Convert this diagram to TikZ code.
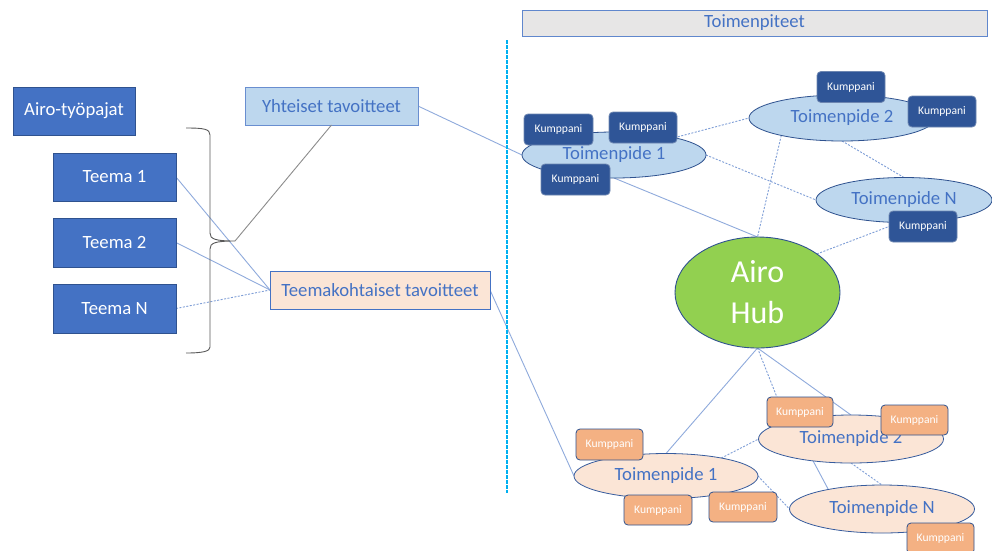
\documentclass[tikz,border=0pt]{standalone}
\usepackage{fontspec}
\setmainfont{Carlito}
\usetikzlibrary{shapes.geometric,backgrounds}
\definecolor{dblue}{HTML}{4472C4}
\definecolor{dborder}{HTML}{2F528F}
\definecolor{lblue}{HTML}{BDD7EE}
\definecolor{peach}{HTML}{FBE5D6}
\definecolor{kdark}{HTML}{2F5597}
\definecolor{korange}{HTML}{F4B183}
\definecolor{hubgreen}{HTML}{92D050}
\definecolor{greyfill}{HTML}{E7E6E6}
\definecolor{conn}{HTML}{8FAADC}
\definecolor{cyanline}{HTML}{00B0F0}
\tikzset{
  darkbox/.style={rectangle,draw=dborder,line width=0.9pt,fill=dblue,text=white,inner sep=0pt,outer sep=0pt,font=\fontsize{18.7}{20}\selectfont},
  goalblue/.style={rectangle,draw=dblue!80,line width=0.9pt,fill=lblue,text=dblue,inner sep=0pt,outer sep=0pt,font=\fontsize{18.7}{20}\selectfont},
  goalpeach/.style={rectangle,draw=dblue,line width=0.9pt,fill=peach,text=dblue,inner sep=0pt,outer sep=0pt,font=\fontsize{18.7}{20}\selectfont},
  headbox/.style={rectangle,draw=dblue!85,line width=0.9pt,fill=greyfill,text=dblue,inner sep=0pt,outer sep=0pt,font=\fontsize{18.7}{20}\selectfont},
  actblue/.style={ellipse,draw=dborder,line width=0.8pt,fill=lblue,text=dblue,inner sep=0pt,outer sep=0pt,font=\fontsize{18.7}{20}\selectfont},
  actpeach/.style={ellipse,draw=dblue!80!black,line width=0.8pt,fill=peach,text=dblue,inner sep=0pt,outer sep=0pt,font=\fontsize{18.7}{20}\selectfont},
  hubnode/.style={ellipse,draw=dborder,line width=0.9pt,fill=hubgreen,text=white,inner sep=0pt,outer sep=0pt,align=center,font=\fontsize{32}{41}\selectfont},
  kdarkbox/.style={rectangle,rounded corners=4pt,draw=dborder!70,line width=0.8pt,fill=kdark,text=white,inner sep=0pt,outer sep=0pt,minimum width=68pt,minimum height=31pt,font=\fontsize{11.6}{13}\selectfont},
  korangebox/.style={rectangle,rounded corners=4pt,draw=dborder,line width=0.8pt,fill=korange,text=white,inner sep=0pt,outer sep=0pt,minimum width=67pt,minimum height=30pt,font=\fontsize{11.6}{13}\selectfont},
  cline/.style={draw=conn,line width=0.9pt},
  cdash/.style={draw=conn!80!dblue,line width=0.9pt,dash pattern=on 2pt off 1.5pt},
}
\begin{document}
\begin{tikzpicture}[x=1pt,y=-1pt]
\useasboundingbox (0,0) rectangle (992,550);
\clip (0,0) rectangle (992,550);

% left side
\node[darkbox,minimum width=122pt,minimum height=48pt] (airo) at (74,111) {Airo-työpajat};
\node[darkbox,minimum width=123pt,minimum height=48pt] (t1) at (114.5,177) {Teema 1};
\node[darkbox,minimum width=123pt,minimum height=49pt] (t2) at (114.5,242.5) {Teema 2};
\node[darkbox,minimum width=123pt,minimum height=49pt] (tn) at (114.5,308.5) {Teema N};
\node[goalblue,minimum width=173pt,minimum height=38pt] (yht) at (331.5,106) {Yhteiset tavoitteet};
\node[goalpeach,minimum width=220pt,minimum height=38pt] (tk) at (380,290) {Teemakohtaiset tavoitteet};

% brace
\coordinate (btip) at (235,241);
\draw[draw=black!65,line width=0.9pt] (186,128) .. controls (204,128) and (210,129) .. (210,135) -- (210,233) .. controls (210,239) and (215,241) .. (btip)
  .. controls (215,241) and (210,243) .. (210,249) -- (210,347) .. controls (210,351) and (204,353) .. (186,353);
\draw[draw=black!45,line width=0.9pt] (btip) -- (yht.south);

% separator
\coordinate (sepA) at (507,40);
\coordinate (sepB) at (507,493);
\draw[draw=cyanline,line width=1.3pt,dash pattern=on 3.5pt off 1.5pt] (sepA) -- (sepB);

\node[headbox,minimum width=465pt,minimum height=26pt] (head) at (754.5,23) {Toimenpiteet};

% upper actions
\node[actblue,minimum width=184pt,minimum height=46pt] (u1) at (614,155) {Toimenpide 1};
\node[actblue,minimum width=186pt,minimum height=46pt] (u2) at (842,118) {Toimenpide 2};
\node[actblue,minimum width=176pt,minimum height=45pt] (un) at (904,200) {Toimenpide N};
\node[hubnode,minimum width=165pt,minimum height=111pt] (hub) at (757.5,292.5) {Airo\\Hub};

% lower actions
\node[actpeach,minimum width=184pt,minimum height=45pt] (l1) at (666,476) {Toimenpide 1};
\node[actpeach,minimum width=185pt,minimum height=48pt] (l2) at (851,439) {Toimenpide 2};
\node[actpeach,minimum width=185pt,minimum height=48pt] (ln) at (882,509) {Toimenpide N};

% partners upper
\node[kdarkbox,minimum width=69pt] (k1a) at (558.5,129.5) {Kumppani};
\node[kdarkbox] (k1b) at (643,127.5) {Kumppani};
\node[kdarkbox,minimum width=69pt] (k1c) at (575.5,179.5) {Kumppani};
\node[kdarkbox] (k2a) at (851,87) {Kumppani};
\node[kdarkbox] (k2b) at (942,111.5) {Kumppani};
\node[kdarkbox] (kna) at (923,226.5) {Kumppani};

% partners lower
\node[korangebox,minimum height=31pt] (o1a) at (609.5,444.5) {Kumppani};
\node[korangebox,minimum width=68pt] (o1b) at (658,510) {Kumppani};
\node[korangebox,minimum width=68pt] (o1c) at (743,507) {Kumppani};
\node[korangebox,minimum width=66pt] (o2a) at (800,412) {Kumppani};
\node[korangebox] (o2b) at (914.5,420) {Kumppani};
\node[korangebox,minimum height=31pt] (ona) at (940.5,538.5) {Kumppani};

\begin{pgfonlayer}{background}
\fill[white] (0,0) rectangle (992,550);
\draw[cline] (t1.east) -- (tk.west);
\draw[cline] (t2.east) -- (tk.west);
\draw[cdash] (tn.east) -- (tk.west);
\draw[cline] (yht.east) -- (u1.west);
\draw[cline] (tk.east) -- (l1.west);
\draw[cdash] (u1.16) -- (u2.west);
\draw[cdash] (u1.east) -- (un.west);
\draw[cline] (u1.south) -- (hub.north);
\draw[cdash] (u2.196) -- (hub.north);
\draw[cdash] (u2.south) -- (un.north);
\draw[cdash] (hub.33) -- (kna.west);
\draw[cline] (hub.south) -- (l1.north);
\draw[cdash] (hub.south) -- (l2.165);
\draw[cline] (hub.south) -- (l2.north);
\draw[cdash] (l1.18) -- (l2.west);
\draw[cdash] (l1.east) -- (ln.west);
\draw[cline] (l2.-150) -- (ln.160);
\draw[cdash] (l2.south) -- (ln.north);
\end{pgfonlayer}
\end{tikzpicture}
\end{document}
